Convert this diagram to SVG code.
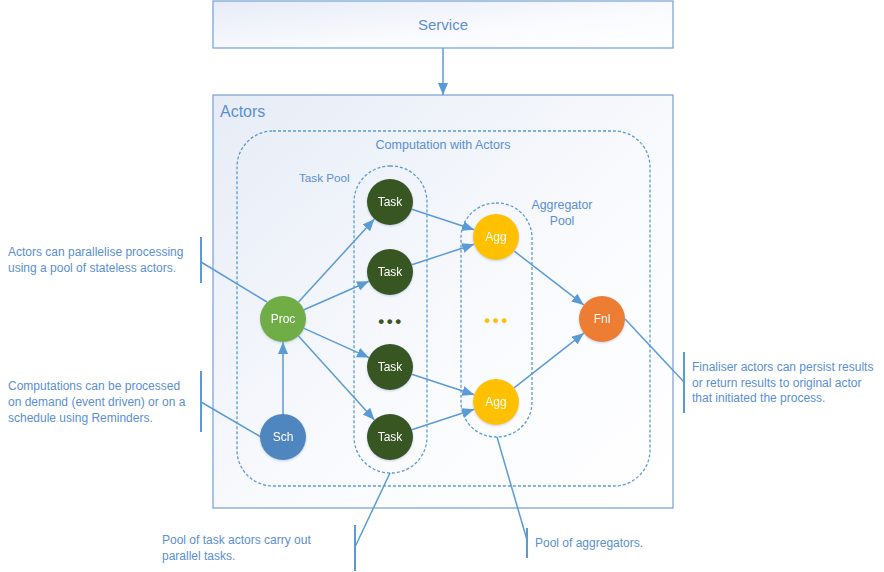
<svg xmlns="http://www.w3.org/2000/svg" width="884" height="572" viewBox="0 0 884 572">
<defs>
<linearGradient id="bg" x1="0" y1="0" x2="1" y2="1">
<stop offset="0" stop-color="#E6ECF6"/>
<stop offset="0.6" stop-color="#FAFBFE"/>
<stop offset="1" stop-color="#FFFFFF"/>
</linearGradient>
<marker id="arr" markerUnits="userSpaceOnUse" markerWidth="13" markerHeight="11" refX="12" refY="5" orient="auto">
<path d="M0,0 L12,5 L0,10 z" fill="#5B9BD5"/>
</marker>
<filter id="glow" x="-30%" y="-30%" width="160%" height="160%">
<feGaussianBlur in="SourceAlpha" stdDeviation="1.2"/>
<feOffset dx="0" dy="1" result="b"/>
<feFlood flood-color="#8FA8C8" flood-opacity="0.5"/>
<feComposite in2="b" operator="in"/>
<feMerge><feMergeNode/><feMergeNode in="SourceGraphic"/></feMerge>
</filter>
</defs>
<style>
.box{fill:url(#bg);stroke:#7FA7D6;stroke-width:1.3}
.dash{fill:none;stroke:#5B9BD5;stroke-width:1.3;stroke-dasharray:3,2}
.t{font-family:"Liberation Sans",Arial,sans-serif;fill:#5A8FD3}
.ann{font-size:12px}
.node{filter:url(#glow)}
.nt{font-family:"Liberation Sans",Arial,sans-serif;font-size:12px;fill:#FFFFFF;text-anchor:middle}
.dots{font-family:"Liberation Sans",Arial,sans-serif;font-size:17px;font-weight:bold;letter-spacing:2.5px;text-anchor:middle}
.e{stroke:#5B9BD5;stroke-width:1.5;fill:none}
.ea{stroke:#5B9BD5;stroke-width:1.5;fill:none;marker-end:url(#arr)}
.br{stroke:#5B9BD5;stroke-width:2;fill:none}
</style>
<rect width="884" height="572" fill="#FFFFFF"/>

<g id="service">
<rect class="box" x="213" y="1" width="460" height="47"/>
<text class="t" x="443" y="30" font-size="15" text-anchor="middle">Service</text>
</g>

<g id="actors">
<rect class="box" x="213" y="95" width="460" height="413"/>
<text class="t" x="220" y="117" font-size="16">Actors</text>
</g>

<g id="computation">
<rect class="dash" x="237" y="131" width="413" height="355" rx="36" ry="36"/>
<text class="t" x="443" y="149" font-size="12.5" text-anchor="middle">Computation with Actors</text>
</g>

<g id="taskpool">
<rect class="dash" x="354" y="166" width="73" height="307" rx="36" ry="36"/>
<text class="t" x="299" y="182" font-size="11.7">Task Pool</text>
<text class="dots" x="391" y="327" fill="#375623">•••</text>
</g>

<g id="aggpool">
<rect class="dash" x="461" y="203" width="71" height="234" rx="35" ry="35"/>
<text class="t" x="562" y="209" font-size="12.3" text-anchor="middle">Aggregator</text>
<text class="t" x="562" y="225" font-size="12.3" text-anchor="middle">Pool</text>
<text class="dots" x="497" y="326" fill="#FFC000">•••</text>
</g>

<g id="connectors">
<line class="ea" x1="443" y1="48" x2="443" y2="95"/>
<line class="ea" x1="298.5" y1="302" x2="374.5" y2="219"/>
<line class="ea" x1="304" y1="309.8" x2="369" y2="281.2"/>
<line class="ea" x1="304" y1="328.4" x2="369" y2="357.6"/>
<line class="ea" x1="298.5" y1="336" x2="374.5" y2="420"/>
<line class="ea" x1="283" y1="414" x2="283" y2="342"/>
<line class="ea" x1="411.8" y1="209.2" x2="474.2" y2="229.8"/>
<line class="ea" x1="411.8" y1="264.8" x2="474.2" y2="244.2"/>
<line class="ea" x1="411.8" y1="374.2" x2="474.2" y2="394.8"/>
<line class="ea" x1="411.8" y1="429.8" x2="474.2" y2="409.2"/>
<line class="ea" x1="514.2" y1="251.1" x2="583.8" y2="304.9"/>
<line class="ea" x1="514.1" y1="387.8" x2="583.9" y2="333.2"/>
<line class="e" x1="201" y1="262" x2="267" y2="302"/>
<line class="e" x1="201" y1="402" x2="261" y2="437"/>
<line class="e" x1="625" y1="319" x2="684" y2="382"/>
<line class="e" x1="355" y1="547" x2="390" y2="473"/>
<line class="e" x1="527" y1="540" x2="497" y2="437"/>
</g>

<g id="proc" class="node"><circle cx="283" cy="319" r="23" fill="#70AD47"/><text class="nt" x="283" y="323">Proc</text></g>
<g id="sch" class="node"><circle cx="283" cy="437" r="23" fill="#4F86BF"/><text class="nt" x="283" y="441">Sch</text></g>
<g id="task1" class="node"><circle cx="390" cy="202" r="23" fill="#375623"/><text class="nt" x="390" y="206">Task</text></g>
<g id="task2" class="node"><circle cx="390" cy="272" r="23" fill="#375623"/><text class="nt" x="390" y="276">Task</text></g>
<g id="task3" class="node"><circle cx="390" cy="367" r="23" fill="#375623"/><text class="nt" x="390" y="371">Task</text></g>
<g id="task4" class="node"><circle cx="390" cy="437" r="23" fill="#375623"/><text class="nt" x="390" y="441">Task</text></g>
<g id="agg1" class="node"><circle cx="496" cy="237" r="23" fill="#FFC000"/><text class="nt" x="496" y="241">Agg</text></g>
<g id="agg2" class="node"><circle cx="496" cy="402" r="23" fill="#FFC000"/><text class="nt" x="496" y="406">Agg</text></g>
<g id="fnl" class="node"><circle cx="602" cy="319" r="23" fill="#ED7D31"/><text class="nt" x="602" y="323">Fnl</text></g>

<g id="note-parallel">
<line class="br" x1="201" y1="237" x2="201" y2="283"/>
<text class="t ann" x="8" y="256">Actors can parallelise processing</text>
<text class="t ann" x="8" y="272">using a pool of stateless actors.</text>
</g>
<g id="note-schedule">
<line class="br" x1="201" y1="371" x2="201" y2="432"/>
<text class="t ann" x="8" y="390">Computations can be processed</text>
<text class="t ann" x="8" y="406">on demand (event driven) or on a</text>
<text class="t ann" x="8" y="422">schedule using Reminders.</text>
</g>
<g id="note-finaliser">
<line class="br" x1="684" y1="352" x2="684" y2="413"/>
<text class="t ann" x="692" y="371">Finaliser actors can persist results</text>
<text class="t ann" x="692" y="387">or return results to original actor</text>
<text class="t ann" x="692" y="402">that initiated the process.</text>
</g>
<g id="note-taskpool">
<line class="br" x1="355" y1="525" x2="355" y2="571"/>
<text class="t ann" x="162" y="544">Pool of task actors carry out</text>
<text class="t ann" x="162" y="560">parallel tasks.</text>
</g>
<g id="note-aggpool">
<line class="br" x1="527" y1="528" x2="527" y2="558"/>
<text class="t ann" x="535" y="547">Pool of aggregators.</text>
</g>
</svg>
